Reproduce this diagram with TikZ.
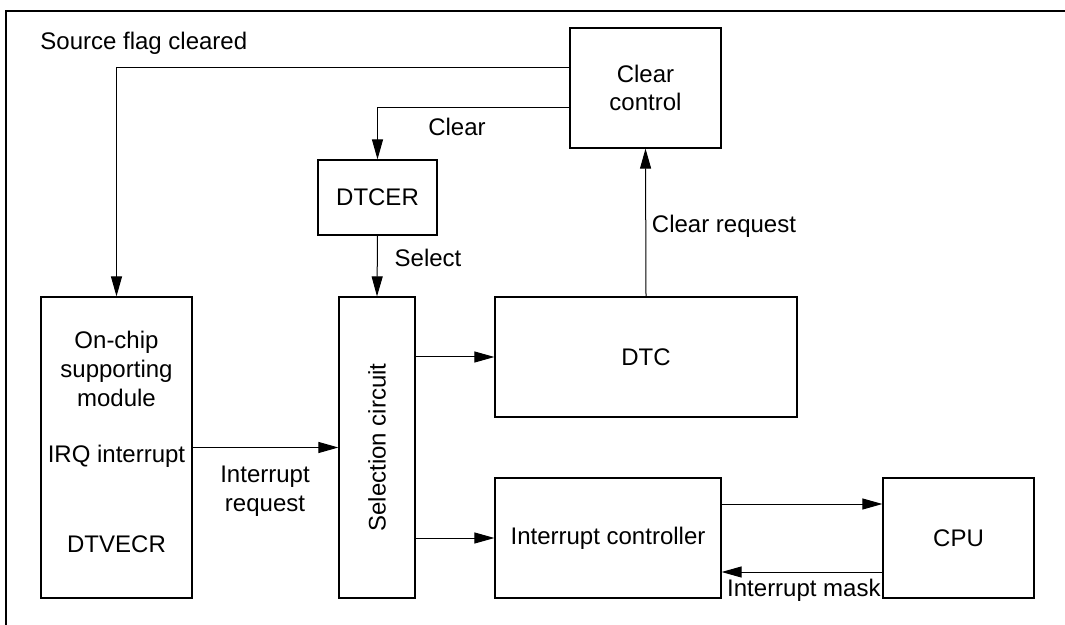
\documentclass[tikz,border=0pt]{standalone}
\usepackage{fontspec}
\setmainfont{Liberation Sans}
\usepackage{tikz}
\usetikzlibrary{arrows.meta,calc}

\begin{document}
\begin{tikzpicture}[x=0.5pt, y=-0.5pt, font=\fontsize{12pt}{14.4pt}\selectfont,
    >={Triangle[length=10pt,width=5.5pt]},
    block/.style={draw, line width=0.6pt, inner sep=0pt, align=center},
    signal/.style={->, line width=0.5pt},
    tag/.style={inner sep=0pt, align=center}]
    \useasboundingbox (0,0) rectangle (1065,625);

    % Draw the outer frame (top and left only)
    \draw[line width=1.1pt] (1065,11) -- (6,11) -- (6,625);

    % Draw the blocks
    \node[block, minimum width=75.5pt, minimum height=150.5pt] (onchip) at (116.5,447.5) {};
    \node[block, minimum width=38pt, minimum height=150.5pt] (sel) at (377,447.5) {};
    \node[block, minimum width=59.5pt, minimum height=37.5pt] (dtcer) at (377.5,197.5) {DTCER};
    \node[block, minimum width=75.5pt, minimum height=60pt] (clr) at (645.5,88) {Clear\\control};
    \node[block, minimum width=151pt, minimum height=60pt] (dtc) at (646,357) {DTC};
    \node[block, minimum width=113pt, minimum height=60pt] (ic) at (608,538) {Interrupt controller};
    \node[block, minimum width=75.5pt, minimum height=60pt] (cpu) at (958.5,538) {CPU};

    % Texts inside the tall blocks
    \node[tag] (onchiptxt) at (116.5,369) {On-chip\\supporting\\module};
    \node[tag] (irqtxt) at (116.5,456) {IRQ interrupt};
    \node[tag] (vectxt) at (116.5,544) {DTVECR};
    \node[tag, rotate=90] (seltxt) at (sel) {Selection circuit};

    % Draw the connectors
    \draw[signal] ($(clr.west)+(0,-20)$) -| (onchip.north);
    \draw[signal] ($(clr.west)+(0,20)$) -| (dtcer.north);
    \draw[signal] (dtcer.south) -- (sel.north);
    \draw[signal] (dtc.north) -- (clr.south);
    \draw[signal] (onchip.east) -- (sel.west);
    \draw[signal] (sel.east |- dtc.west) -- (dtc.west);
    \draw[signal] (sel.east |- ic.west) -- (ic.west);
    \draw[signal] ($(ic.east)+(0,-34)$) -- ($(cpu.west)+(0,-34)$);
    \draw[signal] ($(cpu.west)+(0,34)$) -- ($(ic.east)+(0,34)$);

    % Label the connectors
    \node[tag, anchor=west] (srclbl) at (40,43) {Source flag cleared};
    \node[tag] (clrlbl) at (457,127) {Clear};
    \node[tag] (sellbl) at (428,258) {Select};
    \node[tag] (reqlbl) at (724,226) {Clear request};
    \node[tag] (irqlbl) at (265,491) {Interrupt\\request};
    \node[tag, anchor=east] (masklbl) at (881,590) {Interrupt mask};

\end{tikzpicture}
\end{document}
